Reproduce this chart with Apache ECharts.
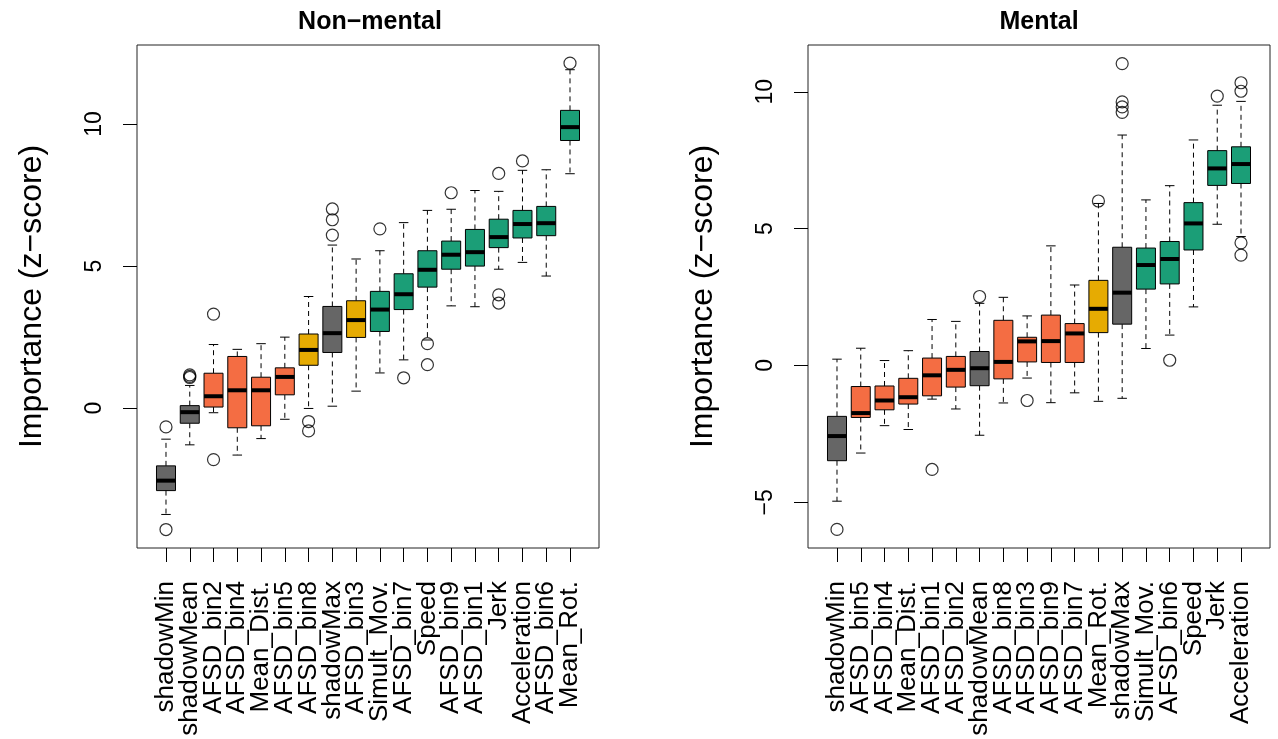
<!DOCTYPE html>
<html><head><meta charset="utf-8">
<script src="https://cdn.jsdelivr.net/npm/echarts@6/dist/echarts.min.js"></script>
<style>html,body{margin:0;padding:0;background:#fff}#c{width:1278px;height:739px}</style>
</head><body><div id="c"></div>
<script>
// ---------- Non-mental panel ----------
const nmNames = ['shadowMin','shadowMean','AFSD_bin2','AFSD_bin4','Mean_Dist.','AFSD_bin5','AFSD_bin8','shadowMax','AFSD_bin3','Simult_Mov.','AFSD_bin7','Speed','AFSD_bin9','AFSD_bin1','Jerk','Acceleration','AFSD_bin6','Mean_Rot.'];
const nmGroup = ['shadow','shadow','afsd','afsd','afsd','afsd','mid','shadow','mid','top','top','top','top','top','top','top','top','top'];
const nmLow  = [-3.74,-1.29,-0.16,-1.65,-1.07,-0.39,-0.01,0.07,0.60,1.24,1.70,2.40,3.60,3.57,4.89,5.13,4.65,8.25];
const nmQ1   = [-2.90,-0.53,0.04,-0.69,-0.62,0.47,1.51,1.96,2.49,2.70,3.47,4.26,4.89,5.00,5.65,5.99,6.07,9.42];
const nmMed  = [-2.55,-0.14,0.42,0.63,0.63,1.10,2.05,2.64,3.10,3.47,4.01,4.87,5.40,5.49,6.02,6.48,6.51,9.89];
const nmQ3   = [-2.03,0.09,1.23,1.82,1.09,1.42,2.61,3.58,3.78,4.11,4.73,5.54,5.88,6.29,6.65,6.96,7.10,10.48];
const nmHigh = [-1.09,0.80,2.24,2.07,2.27,2.50,3.93,5.74,5.25,5.54,6.53,6.96,7.00,7.66,7.63,8.37,8.39,11.91];
const nmOutliers = [[1,-0.66],[1,-4.27],[2,1.08],[2,1.12],[2,1.17],[3,3.31],[3,-1.81],[7,-0.47],[7,-0.80],[8,6.09],[8,6.63],[8,7.01],[10,6.31],[11,1.07],[12,2.27],[12,1.53],[13,7.58],[15,8.26],[15,3.99],[15,3.70],[16,8.70],[18,12.14]];
const nmYTicks = [0,5,10];

// ---------- Mental panel ----------
const mNames = ['shadowMin','AFSD_bin5','AFSD_bin4','Mean_Dist.','AFSD_bin1','AFSD_bin2','shadowMean','AFSD_bin8','AFSD_bin3','AFSD_bin9','AFSD_bin7','Mean_Rot.','shadowMax','Simult_Mov.','AFSD_bin6','Speed','Jerk','Acceleration'];
const mGroup = ['shadow','afsd','afsd','afsd','afsd','afsd','shadow','afsd','afsd','afsd','afsd','mid','shadow','top','top','top','top','top'];
const mLow  = [-4.96,-3.20,-2.20,-2.34,-1.23,-1.59,-2.55,-1.37,-0.46,-1.36,-1.00,-1.31,-1.20,0.62,1.11,2.14,5.16,4.71];
const mQ1   = [-3.48,-1.90,-1.62,-1.41,-1.11,-0.79,-0.74,-0.49,0.13,0.11,0.11,1.20,1.51,2.79,2.98,4.22,6.58,6.65];
const mMed  = [-2.58,-1.74,-1.28,-1.16,-0.36,-0.16,-0.10,0.13,0.88,0.89,1.17,2.07,2.66,3.67,3.89,5.19,7.20,7.36];
const mQ3   = [-1.86,-0.77,-0.75,-0.47,0.27,0.33,0.51,1.65,1.03,1.84,1.53,3.11,4.32,4.29,4.53,5.95,7.85,7.99];
const mHigh = [0.23,0.63,0.18,0.54,1.68,1.61,2.27,2.49,1.81,4.37,2.94,5.92,8.42,6.05,6.57,8.24,9.51,9.65];
const mOutliers = [[1,-5.99],[5,-3.80],[7,2.52],[9,-1.28],[12,6.01],[13,11.03],[13,9.63],[13,9.45],[13,9.25],[15,0.19],[17,9.84],[18,10.33],[18,10.02],[18,4.48],[18,4.03]];
const mYTicks = [-5,0,5,10];

const titles = ['Non−mental','Mental'];
const yName = 'Importance (z−score)';

// ---------- styling ----------
const palette = {shadow:'#666666', afsd:'#F46D43', mid:'#E6AB02', top:'#1B9E77'};
const FONT = 'Liberation Sans, Arial, Helvetica, sans-serif';

function boxData(low,q1,med,q3,high){
  return low.map((v,i)=>[i+1, v, q1[i], med[i], q3[i], high[i]]);
}
function makeRender(groups){
  return function(params, api){
    const x = api.value(0);
    const w = api.size([0.8,0])[0];
    const pLo = api.coord([x, api.value(1)]);
    const pQ1 = api.coord([x, api.value(2)]);
    const pMd = api.coord([x, api.value(3)]);
    const pQ3 = api.coord([x, api.value(4)]);
    const pHi = api.coord([x, api.value(5)]);
    const cx = pMd[0];
    const dash = {stroke:'#000', lineWidth:1, lineDash:[5,4]};
    const solid = {stroke:'#000', lineWidth:1};
    return {type:'group', children:[
      {type:'line', shape:{x1:cx,y1:pQ1[1],x2:cx,y2:pLo[1]}, style:dash},
      {type:'line', shape:{x1:cx,y1:pQ3[1],x2:cx,y2:pHi[1]}, style:dash},
      {type:'line', shape:{x1:cx-w/4,y1:pLo[1],x2:cx+w/4,y2:pLo[1]}, style:solid},
      {type:'line', shape:{x1:cx-w/4,y1:pHi[1],x2:cx+w/4,y2:pHi[1]}, style:solid},
      {type:'rect', shape:{x:cx-w/2,y:pQ3[1],width:w,height:pQ1[1]-pQ3[1]}, style:{fill:palette[groups[params.dataIndex]], stroke:'#000', lineWidth:1}},
      {type:'line', shape:{x1:cx-w/2,y1:pMd[1],x2:cx+w/2,y2:pMd[1]}, style:{stroke:'#000', lineWidth:4}}
    ]};
  };
}

// positions 1..18; split into odd / even so neighbouring rotated labels never collide
const allIdx = nmNames.map((_,i)=>i+1);
const oddIdx = allIdx.filter(v=>v%2===1);
const evenIdx = allIdx.filter(v=>v%2===0);
function xAxisCfg(gi, names, ticks){
  return {gridIndex:gi, type:'value', min:-0.22, max:19.22, position:'bottom', offset:0,
    axisLine:{show:false, onZero:false}, splitLine:{show:false},
    axisTick:{show:true, customValues:ticks, length:14, lineStyle:{color:'#000'}},
    axisLabel:{show:true, customValues:ticks, rotate:90, margin:33, fontSize:26,
      showMinLabel:true, showMaxLabel:true, color:'#000', fontFamily:FONT,
      formatter:v=>names[Math.round(v)-1] || ''}};
}
function yAxisCfg(gi, min, max, ticks){
  return {gridIndex:gi, type:'value', min:min, max:max,
    name:yName, nameLocation:'middle', nameGap:89, nameRotate:90,
    nameTextStyle:{fontSize:32, color:'#000', fontFamily:FONT},
    axisLine:{show:false, onZero:false}, splitLine:{show:false},
    axisTick:{show:true, customValues:ticks, length:14, lineStyle:{color:'#000'}},
    axisLabel:{show:true, customValues:ticks, rotate:90, margin:31, fontSize:23, color:'#000', fontFamily:FONT,
      showMinLabel:true, showMaxLabel:true,
      formatter:v=>String(v).replace('-','−')}};
}
function outlierSeries(xi, yi, data){
  return {type:'scatter', xAxisIndex:xi, yAxisIndex:yi, data:data, symbol:'circle', symbolSize:12,
    itemStyle:{color:'rgba(0,0,0,0)', borderColor:'#000', borderWidth:1.2}, z:5, silent:true};
}

const chart = echarts.init(document.getElementById('c'), null, {renderer:'canvas'});
chart.setOption({
  animation:false,
  backgroundColor:'#fff',
  title:[
    {text:titles[0], left:365, top:5, textAlign:'center', textStyle:{fontSize:25, fontWeight:'bold', color:'#000', fontFamily:FONT}},
    {text:titles[1], left:1034, top:5, textAlign:'center', textStyle:{fontSize:25, fontWeight:'bold', color:'#000', fontFamily:FONT}}
  ],
  grid:[
    {left:137, top:45, width:462, height:503, show:true, borderColor:'#222', borderWidth:1, backgroundColor:'transparent'},
    {left:808, top:45, width:462, height:503, show:true, borderColor:'#222', borderWidth:1, backgroundColor:'transparent'}
  ],
  xAxis:[
    xAxisCfg(0, nmNames, oddIdx), xAxisCfg(0, nmNames, evenIdx),
    xAxisCfg(1, mNames, oddIdx), xAxisCfg(1, mNames, evenIdx)
  ],
  yAxis:[yAxisCfg(0, -4.92, 12.78, nmYTicks), yAxisCfg(1, -6.67, 11.71, mYTicks)],
  series:[
    {type:'custom', xAxisIndex:0, yAxisIndex:0, renderItem:makeRender(nmGroup), data:boxData(nmLow,nmQ1,nmMed,nmQ3,nmHigh), encode:{x:0, y:[1,2,3,4,5]}, silent:true},
    {type:'custom', xAxisIndex:2, yAxisIndex:1, renderItem:makeRender(mGroup), data:boxData(mLow,mQ1,mMed,mQ3,mHigh), encode:{x:0, y:[1,2,3,4,5]}, silent:true},
    outlierSeries(0, 0, nmOutliers),
    outlierSeries(2, 1, mOutliers)
  ]
});
</script></body></html>
